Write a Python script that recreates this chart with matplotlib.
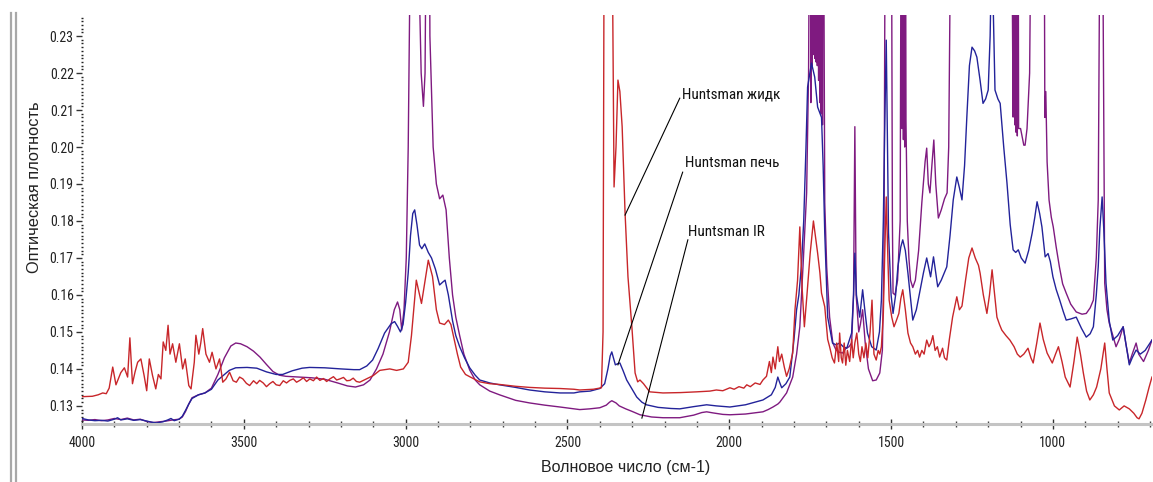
import matplotlib
matplotlib.use("Agg")
import matplotlib.pyplot as plt
from matplotlib import font_manager
from matplotlib.lines import Line2D
from matplotlib.ticker import MultipleLocator, FixedLocator

# ---------------- data ----------------
wn_ir = [4000, 3980, 3960, 3940, 3920, 3900, 3880, 3860, 3840, 3820, 3800, 3780, 3760, 3740, 3720, 3700,
         3690, 3680, 3670, 3660, 3640, 3620, 3600, 3580, 3560, 3540, 3525, 3510, 3490, 3470, 3450, 3430,
         3410, 3390, 3370, 3330, 3290, 3250, 3210, 3180, 3155, 3130, 3110, 3090, 3070, 3050, 3035, 3025,
         3018, 3012, 3005, 2998, 2992, 2985, 2975, 2962, 2952, 2945, 2940, 2935, 2928, 2925, 2915, 2905,
         2895, 2885, 2875, 2865, 2855, 2845, 2833, 2820, 2802, 2785, 2771, 2740, 2710, 2660, 2617, 2570,
         2523, 2480, 2462, 2431, 2400, 2380, 2370, 2363, 2350, 2340, 2320, 2300, 2276, 2240, 2205, 2153,
         2110, 2085, 2070, 2050, 2020, 1998, 1950, 1896, 1880, 1865, 1850, 1844, 1823, 1804, 1792, 1782,
         1772, 1761, 1755,
         1750, 1748, 1746, 1744, 1742, 1740, 1738, 1736, 1734, 1732, 1730, 1728, 1726, 1724, 1722, 1720,
         1718, 1716, 1714, 1712, 1710,
         1705, 1699, 1690, 1680, 1670, 1660, 1650, 1640, 1630, 1622, 1616, 1612, 1608, 1600, 1595, 1588,
         1580, 1570, 1557, 1546, 1535, 1527, 1522, 1517, 1500, 1496, 1494, 1488, 1480, 1472,
         1468, 1466, 1464, 1462, 1460, 1458, 1456, 1454,
         1450, 1445, 1440, 1433, 1425, 1415, 1405, 1395, 1390, 1385, 1380, 1374, 1368, 1362, 1354, 1345,
         1335, 1327, 1322, 1318, 1315, 1300, 1200, 1130, 1123,
         1120, 1118, 1116, 1114, 1112, 1110, 1108, 1106,
         1100, 1090, 1086, 1080, 1072, 1064, 1045, 1028, 1025, 1022, 1018, 1012, 1005, 999, 990, 980,
         970, 959, 945, 928, 910, 897, 885, 875, 866, 860, 855, 850, 845, 840, 833, 826, 815, 805, 795,
         783, 775, 764, 755, 743, 735, 720, 705, 694]
abs_ir = [0.1262, 0.1261, 0.1263, 0.1260, 0.1262, 0.1266, 0.1263, 0.1267, 0.1262, 0.1264, 0.1258, 0.1255,
          0.1257, 0.1259, 0.1262, 0.1264,
          0.1270, 0.1285, 0.1305, 0.1322, 0.1330, 0.1335, 0.1348, 0.1385, 0.1430, 0.1462, 0.1470, 0.1468,
          0.1460, 0.1448, 0.1432, 0.1412, 0.1393, 0.1383, 0.1380, 0.1378, 0.1376, 0.1372, 0.1362, 0.1354,
          0.1351, 0.1357, 0.1370, 0.1400, 0.1440, 0.1500, 0.1560, 0.1581, 0.1560, 0.1505, 0.1560, 0.1700,
          0.2000, 0.2600, 0.3000, 0.2600, 0.2200, 0.2110, 0.2200, 0.2800, 0.3000, 0.2300, 0.2000, 0.1900,
          0.1860, 0.1870, 0.1830, 0.1700, 0.1600, 0.1540, 0.1490, 0.1440, 0.1397, 0.1370, 0.1357, 0.1340,
          0.1330, 0.1315, 0.1308, 0.1302, 0.1297, 0.1292, 0.1290, 0.1292, 0.1295, 0.1302, 0.1310, 0.1314,
          0.1308, 0.1300, 0.1292, 0.1285, 0.1276, 0.1270, 0.1268, 0.1268, 0.1275, 0.1282, 0.1284, 0.1281,
          0.1277, 0.1276, 0.1278, 0.1284, 0.1290, 0.1297, 0.1305, 0.1310, 0.1335, 0.1378, 0.1440, 0.1514,
          0.1680, 0.1876, 0.2200,
          0.3000, 0.2120, 0.3000, 0.2220, 0.3000, 0.2250, 0.3000, 0.2240, 0.3000, 0.2230, 0.3000, 0.2220,
          0.3000, 0.2180, 0.3000, 0.2120, 0.3000, 0.2090, 0.3000, 0.2060, 0.3000,
          0.1850, 0.1676, 0.1540, 0.1470, 0.1451, 0.1445, 0.1443, 0.1455, 0.1460, 0.1470, 0.1600, 0.2055,
          0.1600, 0.1500, 0.1520, 0.1560, 0.1470, 0.1400, 0.1368, 0.1370, 0.1389, 0.1450, 0.1700, 0.3000,
          0.3000, 0.1800, 0.1605, 0.1600, 0.1640, 0.1800,
          0.3000, 0.2050, 0.3000, 0.2020, 0.3000, 0.2000, 0.3000, 0.2070,
          0.1800, 0.1700, 0.1640, 0.1620, 0.1640, 0.1720, 0.1850, 0.1960, 0.1997, 0.1900, 0.1876, 0.1950,
          0.2019, 0.1900, 0.1808, 0.1830, 0.1860, 0.1876, 0.2000, 0.2400, 0.3000, 0.3000, 0.3200, 0.3000,
          0.2081,
          0.3000, 0.2060, 0.3000, 0.2040, 0.3000, 0.2030, 0.3000, 0.2050,
          0.2050, 0.2005, 0.2005, 0.2050, 0.2200, 0.3000, 0.3000, 0.3000, 0.2080, 0.2150, 0.1960, 0.1857,
          0.1810, 0.1784, 0.1730, 0.1676, 0.1630, 0.1605, 0.1575, 0.1554, 0.1548, 0.1550, 0.1565, 0.1586,
          0.1700, 0.1857, 0.2600, 0.3000, 0.2400, 0.1632, 0.1560, 0.1524, 0.1490, 0.1460, 0.1480, 0.1514,
          0.1470, 0.1416, 0.1440, 0.1470, 0.1440, 0.1420, 0.1450, 0.1478]

wn_pech = [4000, 3980, 3960, 3940, 3920, 3900, 3890, 3880, 3860, 3840, 3820, 3800, 3785, 3770, 3750, 3735,
           3725, 3715, 3700, 3690, 3680, 3670, 3660, 3640, 3620, 3600, 3580, 3560, 3545, 3525, 3490, 3460,
           3430, 3400, 3380, 3350, 3320, 3297, 3250, 3200, 3160, 3142, 3120, 3102, 3085, 3065, 3045, 3034,
           3025, 3016, 3008, 3000, 2992, 2985, 2978, 2972, 2965, 2957, 2950, 2941, 2930, 2920, 2908, 2895,
           2885, 2878, 2868, 2855, 2845, 2833, 2818, 2802, 2785, 2771, 2740, 2710, 2660, 2617, 2570, 2523,
           2480, 2462, 2430, 2400, 2385, 2375, 2368, 2363, 2358, 2352, 2345, 2338, 2328, 2317, 2300, 2286,
           2270, 2256, 2220, 2180, 2153, 2110, 2070, 2040, 1998, 1950, 1896, 1870, 1858, 1850, 1845, 1838,
           1825, 1813, 1800, 1792, 1785, 1777, 1770, 1763, 1758, 1746, 1736, 1727, 1715, 1710, 1705, 1696,
           1681, 1670, 1659, 1648, 1637, 1622, 1616, 1612, 1607, 1597, 1588, 1580, 1573, 1560, 1546, 1536,
           1530, 1524, 1520, 1515, 1511, 1508, 1500, 1494, 1486, 1479, 1470, 1464, 1456, 1448, 1440, 1433,
           1422, 1412, 1400, 1390, 1383, 1378, 1369, 1362, 1356, 1345, 1328, 1318, 1308, 1297, 1289, 1281,
           1273, 1266, 1258, 1250, 1242, 1235, 1225, 1216, 1208, 1200, 1194, 1190, 1185, 1179, 1170, 1163,
           1152, 1142, 1132, 1123, 1115, 1107, 1098, 1086, 1075, 1064, 1056, 1049, 1041, 1034, 1024, 1015,
           1008, 1000, 990, 979, 968, 959, 945, 928, 912, 897, 885, 875, 866, 860, 855, 848, 843, 836, 826,
           815, 800, 783, 773, 764, 755, 743, 730, 715, 694]
abs_pech = [0.1266, 0.1262, 0.1260, 0.1261, 0.1259, 0.1264, 0.1268, 0.1262, 0.1265, 0.1261, 0.1263, 0.1259,
            0.1256, 0.1254, 0.1257, 0.1262, 0.1266, 0.1260, 0.1264, 0.1272, 0.1288, 0.1305, 0.1320, 0.1330,
            0.1335, 0.1345, 0.1370, 0.1385, 0.1396, 0.1403, 0.1404, 0.1402, 0.1392, 0.1385, 0.1385, 0.1395,
            0.1402, 0.1404, 0.1403, 0.1400, 0.1398, 0.1398, 0.1408, 0.1424, 0.1455, 0.1497, 0.1522, 0.1528,
            0.1515, 0.1500, 0.1520, 0.1580, 0.1660, 0.1760, 0.1820, 0.1830, 0.1790, 0.1735, 0.1725, 0.1738,
            0.1715, 0.1700, 0.1670, 0.1627, 0.1635, 0.1640, 0.1600, 0.1530, 0.1490, 0.1460, 0.1430, 0.1403,
            0.1383, 0.1370, 0.1362, 0.1357, 0.1350, 0.1343, 0.1338, 0.1335, 0.1335, 0.1338, 0.1340, 0.1347,
            0.1360, 0.1400, 0.1435, 0.1446, 0.1430, 0.1411, 0.1414, 0.1416, 0.1395, 0.1370, 0.1345, 0.1324,
            0.1310, 0.1303, 0.1296, 0.1293, 0.1292, 0.1298, 0.1303, 0.1300, 0.1297, 0.1303, 0.1316, 0.1330,
            0.1350, 0.1378, 0.1365, 0.1349, 0.1360, 0.1378, 0.1480, 0.1560, 0.1600, 0.1680, 0.1800, 0.2000,
            0.2162, 0.2227, 0.2189, 0.2108, 0.2080, 0.1950, 0.1768, 0.1540, 0.1470, 0.1465, 0.1470, 0.1460,
            0.1456, 0.1497, 0.1600, 0.1713, 0.1600, 0.1540, 0.1614, 0.1550, 0.1497, 0.1460, 0.1451, 0.1500,
            0.1586, 0.1800, 0.2038, 0.2289, 0.2000, 0.1768, 0.1600, 0.1550, 0.1600, 0.1676, 0.1730, 0.1749,
            0.1720, 0.1659, 0.1590, 0.1532, 0.1560, 0.1605, 0.1660, 0.1700, 0.1670, 0.1649, 0.1703, 0.1660,
            0.1622, 0.1640, 0.1676, 0.1760, 0.1857, 0.1919, 0.1890, 0.1857, 0.1950, 0.2081, 0.2220, 0.2270,
            0.2260, 0.2243, 0.2180, 0.2118, 0.2130, 0.2154, 0.2300, 0.2500, 0.2400, 0.2154, 0.2130, 0.2118,
            0.2000, 0.1903, 0.1790, 0.1722, 0.1715, 0.1722, 0.1700, 0.1686, 0.1720, 0.1768, 0.1810, 0.1852,
            0.1820, 0.1784, 0.1703, 0.1712, 0.1690, 0.1649, 0.1615, 0.1586, 0.1555, 0.1532, 0.1535, 0.1540,
            0.1510, 0.1486, 0.1495, 0.1514, 0.1600, 0.1676, 0.1780, 0.1865, 0.1780, 0.1632, 0.1530, 0.1478,
            0.1490, 0.1514, 0.1460, 0.1411, 0.1430, 0.1451, 0.1440, 0.1450, 0.1478]

wn_zhidk = [3998, 3968, 3950, 3936, 3925, 3916, 3905, 3895, 3880, 3869, 3859, 3852, 3844, 3836, 3828, 3818,
            3808, 3800, 3792, 3782, 3772, 3764, 3756, 3749, 3741, 3734, 3728, 3720, 3710, 3699, 3689, 3681,
            3670, 3663, 3653, 3648, 3639, 3633, 3627, 3617, 3606, 3598, 3586, 3575, 3565, 3555, 3544, 3533,
            3523, 3513, 3503, 3492, 3482, 3470, 3460, 3451, 3440, 3430, 3420, 3410, 3400, 3389, 3378, 3368,
            3358, 3347, 3337, 3327, 3316, 3306, 3296, 3285, 3275, 3265, 3254, 3244, 3234, 3223, 3213, 3203,
            3192, 3182, 3172, 3162, 3152, 3142, 3121, 3100, 3080, 3049, 3028, 3007, 2992, 2982,
            2967, 2951, 2930, 2917, 2905, 2895, 2880, 2868, 2860, 2850, 2840, 2830, 2815, 2800, 2771, 2740,
            2710, 2660, 2617, 2570, 2523, 2480, 2462, 2420, 2395, 2390, 2387, 2384, 2370, 2362, 2356, 2350,
            2344, 2338, 2331, 2322, 2313, 2301, 2291, 2283, 2276, 2265, 2246, 2205, 2150, 2101, 2060, 2040,
            2020, 1998, 1985, 1970, 1955, 1946, 1935, 1920, 1905, 1896, 1885, 1876, 1870, 1865, 1858, 1850,
            1845, 1838, 1830, 1823, 1815, 1804, 1797, 1789, 1782, 1775, 1768, 1760, 1750, 1740, 1734, 1727,
            1720, 1715, 1705, 1696, 1690, 1682, 1675, 1668, 1662, 1659, 1654, 1650, 1645, 1640, 1635, 1628,
            1622, 1617, 1612, 1606, 1600, 1595, 1590, 1584, 1578, 1572, 1565, 1559, 1553, 1546, 1540, 1535,
            1530, 1524, 1520, 1515, 1510, 1506, 1498, 1491, 1484, 1476, 1470, 1464, 1456, 1448, 1440, 1433,
            1425, 1418, 1412, 1405, 1398, 1390, 1383, 1377, 1371, 1364, 1357, 1350, 1341, 1335, 1328, 1320,
            1310, 1297, 1289, 1281, 1270, 1260, 1250, 1240, 1230, 1225, 1215, 1204, 1196, 1188, 1180, 1173,
            1165, 1158, 1145, 1133, 1120, 1110, 1101, 1090, 1077, 1068, 1061, 1050, 1040, 1030, 1018, 1002,
            992, 983, 972, 962, 947, 935, 925, 915, 906, 896, 886, 875, 865, 852, 840, 833, 826, 810, 795,
            780, 764, 750, 740, 734, 725, 713, 703, 694]
abs_zhidk = [0.1325, 0.1326, 0.1330, 0.1335, 0.1333, 0.1348, 0.1405, 0.1357, 0.1390, 0.1403, 0.1378, 0.1484,
             0.1360, 0.1392, 0.1418, 0.1427, 0.1382, 0.1341, 0.1427, 0.1382, 0.1346, 0.1385, 0.1373, 0.1473,
             0.1450, 0.1518, 0.1440, 0.1468, 0.1418, 0.1468, 0.1400, 0.1427, 0.1355, 0.1346, 0.1418, 0.1491,
             0.1440, 0.1470, 0.1509, 0.1440, 0.1418, 0.1445, 0.1400, 0.1427, 0.1364, 0.1373, 0.1391, 0.1368,
             0.1364, 0.1378, 0.1373, 0.1361, 0.1355, 0.1368, 0.1360, 0.1369, 0.1362, 0.1352, 0.1360, 0.1366,
             0.1357, 0.1355, 0.1368, 0.1362, 0.1369, 0.1373, 0.1364, 0.1369, 0.1376, 0.1366, 0.1373, 0.1368,
             0.1378, 0.1369, 0.1374, 0.1366, 0.1373, 0.1379, 0.1370, 0.1373, 0.1377, 0.1368, 0.1369, 0.1375,
             0.1366, 0.1364, 0.1373, 0.1382, 0.1396, 0.1400,
             0.1396, 0.1400, 0.1418, 0.1490, 0.1640, 0.1577, 0.1694, 0.1650, 0.1560, 0.1524, 0.1520, 0.1532,
             0.1520, 0.1480, 0.1440, 0.1405, 0.1385, 0.1378, 0.1365, 0.1360, 0.1358, 0.1353, 0.1350, 0.1348,
             0.1347, 0.1345, 0.1343, 0.1345, 0.1349, 0.1500, 0.2500, 0.3000, 0.3000, 0.2600, 0.1892, 0.2000,
             0.2181, 0.2150, 0.2055, 0.1822, 0.1649, 0.1514, 0.1389, 0.1365, 0.1370, 0.1360, 0.1338, 0.1335,
             0.1336, 0.1338, 0.1340, 0.1343, 0.1341, 0.1349, 0.1345, 0.1352, 0.1348, 0.1357, 0.1352, 0.1362,
             0.1358, 0.1370, 0.1380, 0.1420, 0.1390, 0.1432, 0.1400, 0.1460, 0.1420, 0.1440, 0.1405, 0.1380,
             0.1400, 0.1443, 0.1560, 0.1640, 0.1784, 0.1620, 0.1514, 0.1600, 0.1713, 0.1800, 0.1760, 0.1713,
             0.1660, 0.1605, 0.1568, 0.1480, 0.1460, 0.1430, 0.1416, 0.1470, 0.1420, 0.1497, 0.1430, 0.1416,
             0.1470, 0.1410, 0.1450, 0.1420, 0.1480, 0.1430, 0.1470, 0.1497, 0.1440, 0.1420, 0.1460, 0.1430,
             0.1470, 0.1430, 0.1500, 0.1586, 0.1440, 0.1424, 0.1450, 0.1440, 0.1460, 0.1550, 0.1700, 0.1865,
             0.1700, 0.1586, 0.1540, 0.1514, 0.1530, 0.1550, 0.1590, 0.1614, 0.1560, 0.1497, 0.1470, 0.1460,
             0.1440, 0.1450, 0.1432, 0.1450, 0.1440, 0.1478, 0.1460, 0.1470, 0.1490, 0.1450, 0.1460, 0.1432,
             0.1456, 0.1430, 0.1424, 0.1480, 0.1540, 0.1595, 0.1560, 0.1570, 0.1640, 0.1700, 0.1727, 0.1700,
             0.1680, 0.1659, 0.1600, 0.1550, 0.1600, 0.1668, 0.1600, 0.1540, 0.1520, 0.1505, 0.1490, 0.1478,
             0.1460, 0.1440, 0.1432, 0.1440, 0.1456, 0.1430, 0.1416, 0.1470, 0.1524, 0.1480, 0.1443, 0.1416,
             0.1440, 0.1460, 0.1420, 0.1378, 0.1351, 0.1420, 0.1486, 0.1440, 0.1389, 0.1340, 0.1316, 0.1330,
             0.1351, 0.1400, 0.1470, 0.1400, 0.1335, 0.1300, 0.1289, 0.1300, 0.1292, 0.1280, 0.1268, 0.1265,
             0.1280, 0.1316, 0.1350, 0.1378]

labels = ["Huntsman жидк", "Huntsman печь", "Huntsman IR"]
label_text_pos = [(2147, 0.2141), (2137, 0.1957), (2128, 0.1770)]
label_line_start = [(2153, 0.2132), (2144, 0.1932), (2128, 0.1749)]
label_line_end = [(2322, 0.1816), (2344, 0.1411), (2270, 0.1267)]

x_major = [4000, 3500, 3000, 2500, 2000, 1500, 1000]
y_major = [0.13, 0.14, 0.15, 0.16, 0.17, 0.18, 0.19, 0.20, 0.21, 0.22, 0.23]

# ---------------- fonts ----------------
avail = {f.name for f in font_manager.fontManager.ttflist}
narrow = next((f for f in ["Liberation Sans Narrow", "Arial Narrow", "Roboto Condensed",
                           "Open Sans Condensed", "Liberation Sans"] if f in avail), "DejaVu Sans")
regular = "Liberation Sans" if "Liberation Sans" in avail else "DejaVu Sans"
plt.rcParams['font.family'] = [narrow, 'DejaVu Sans']

# ---------------- figure ----------------
fig = plt.figure(figsize=(11.53, 4.82), dpi=100)
ax = fig.add_axes([0.0711, 0.1203, 0.928, 0.8486])

c_ir = '#7f1a80'
c_pech = '#23239a'
c_zhidk = '#c8262a'
ax.plot(wn_ir, abs_ir, color=c_ir, lw=1.0)
ax.plot(wn_pech, abs_pech, color=c_pech, lw=1.0)
ax.plot(wn_zhidk, abs_zhidk, color=c_zhidk, lw=1.0)

ax.set_xlim(4000, 694)
ax.set_ylim(0.1251, 0.2357)

for txt, tp, ls, le in zip(labels, label_text_pos, label_line_start, label_line_end):
    ax.plot([ls[0], le[0]], [ls[1], le[1]], color='black', lw=0.8)
    ax.text(tp[0], tp[1], txt, ha='left', va='center', fontsize=11, color='#111111')

for s in ['top', 'right', 'left']:
    ax.spines[s].set_visible(False)
ax.spines['bottom'].set_color('#c4c4c4')
ax.spines['bottom'].set_linewidth(2.2)

ax.xaxis.set_major_locator(FixedLocator(x_major))
ax.xaxis.set_minor_locator(MultipleLocator(100))
ax.yaxis.set_major_locator(FixedLocator(y_major))
ax.yaxis.set_minor_locator(MultipleLocator(0.001))
ax.set_xticklabels([str(v) for v in x_major])
ax.set_yticklabels([f"{v:.2f}" for v in y_major])

ax.tick_params(axis='x', which='major', direction='inout', length=7, width=1, color='#333333',
               labelsize=10, pad=5, labelcolor='#222222')
ax.tick_params(axis='x', which='minor', direction='inout', length=4, width=1, color='#444444')
ax.tick_params(axis='y', which='major', direction='out', length=4, width=1, color='#333333',
               labelsize=10, pad=2, labelcolor='#222222')
ax.tick_params(axis='y', which='minor', direction='inout', length=1.5, width=1, color='#222222')

ax.set_xlabel("Волновое число (см-1)", fontsize=11.5, color='#222222', family=[regular, 'DejaVu Sans'])
ax.xaxis.set_label_coords(0.508, -0.088)
ax.set_ylabel("Оптическая плотность", fontsize=11.8, color='#222222', family=[regular, 'DejaVu Sans'])
ax.yaxis.set_label_coords(-0.037, 0.58)

# window frame decoration at far left
fig.add_artist(Line2D([11 / 1153, 11 / 1153], [0, 1 - 13 / 482], color='#a8a8a8', lw=1.6))
fig.add_artist(Line2D([15.5 / 1153, 15.5 / 1153], [0, 1 - 13 / 482], color='#a8a8a8', lw=1.6))

fig.savefig("out.png", dpi=100)
